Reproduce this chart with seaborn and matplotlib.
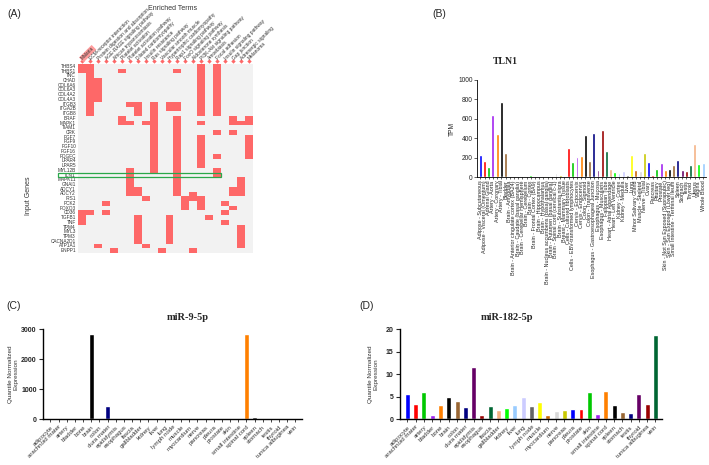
import numpy as np
import pandas as pd
import matplotlib
matplotlib.use("Agg")
import matplotlib.pyplot as plt
import seaborn as sns
from matplotlib.colors import ListedColormap
from matplotlib.patches import Rectangle

sns.set_theme(style="white")
plt.rcParams["font.family"] = ["Liberation Sans", "DejaVu Sans"]

# ---------------- data ----------------
genes = ["THBS4", "THBS1", "TNC", "CHAD", "COL6A6", "COL6A3", "COL4A2", "COL4A3",
         "ITGB3", "ITGA2B", "ITGB8", "BRAF", "MAPK1", "TIAM1", "CRK", "FGF7", "FGF9",
         "FGF10", "FGF16", "PDGFC", "LPAR4", "LPAR5", "MYL12B", "TLN1", "MAPK11",
         "GNAI1", "ADCY1", "ADCY2", "IRS1", "PCK2", "FOXO3", "CD36", "TGFB1", "TNF",
         "TPM4", "MYL3", "TPM3", "CACNA2D1", "ATP1A1", "ENPP1"]

terms = ["Malaria", "ECM-receptor interaction", "Protein digestion and absorption",
         "AGE-RAGE signaling pathway", "African trypanosomiasis", "Platelet activation",
         "Platelet activation pathway", "Dilated cardiomyopathy", "Insulin resistance",
         "Ras signaling pathway", "Vascular smooth muscle", "Hypertrophic cardiomyopathy",
         "Rap1 signaling pathway", "FoxO signaling pathway", "Aldosterone synthesis",
         "PI3K-Akt signaling pathway", "Amoebiasis", "Focal adhesion",
         "Insulin signaling pathway", "Gap junction", "Adrenergic signaling",
         "Melanoma"]

gene_hits = [
    [0, 1, 15, 17], [0, 1, 5, 12, 15, 17], [1, 15, 17], [1, 2, 15, 17],
    [1, 2, 15, 17], [1, 2, 15, 17], [1, 2, 15, 17], [1, 2, 15, 17],
    [1, 6, 7, 9, 11, 12, 15, 17], [1, 7, 9, 11, 12, 15, 17], [1, 7, 9, 15, 17],
    [5, 9, 12, 19, 21], [5, 6, 8, 9, 12, 15, 19, 20, 21], [9, 12],
    [9, 12, 17, 19], [9, 12, 15, 21], [9, 12, 15, 21], [9, 12, 15, 21],
    [9, 12, 15, 21], [9, 12, 15, 17, 21], [9, 12, 15], [9, 12, 15],
    [6, 9, 12, 17], [6, 12, 17], [6, 12, 20], [6, 12, 20], [6, 7, 12, 19, 20],
    [6, 7, 12, 14, 19, 20], [8, 13, 14, 15], [3, 13, 15, 18], [13, 15, 19],
    [0, 1, 3, 18], [0, 7, 11, 16], [0, 7, 11, 18], [7, 11, 20], [7, 11, 20],
    [7, 11, 20], [7, 11, 20], [2, 8, 20], [4, 10, 14]]

palette20 = ["#0000ff", "#ff0000", "#00c800", "#a020f0", "#ff8000", "#000000",
             "#996633", "#000080", "#660066", "#990000", "#006633", "#f4b183",
             "#00ff00", "#99ccff", "#ccccff", "#666666", "#ffff00", "#cc6600",
             "#d9d9d9", "#c8c800"]

gtex_tissues = ["Adipose - Subcutaneous", "Adipose - Visceral (Omentum)", "Adrenal Gland",
    "Artery - Aorta", "Artery - Coronary", "Artery - Tibial", "Bladder", "Brain - Amygdala",
    "Brain - Anterior cingulate cortex (BA24)", "Brain - Caudate (basal ganglia)",
    "Brain - Cerebellar Hemisphere", "Brain - Cerebellum", "Brain - Cortex",
    "Brain - Frontal Cortex (BA9)", "Brain - Hippocampus", "Brain - Hypothalamus",
    "Brain - Nucleus accumbens (basal ganglia)", "Brain - Putamen (basal ganglia)",
    "Brain - Spinal cord (cervical c-1)", "Brain - Substantia nigra",
    "Breast - Mammary Tissue", "Cells - Cultured fibroblasts",
    "Cells - EBV-transformed lymphocytes", "Cervix - Ectocervix", "Cervix - Endocervix",
    "Colon - Sigmoid", "Colon - Transverse", "Esophagus - Gastroesophageal Junction",
    "Esophagus - Mucosa", "Esophagus - Muscularis", "Fallopian Tube",
    "Heart - Atrial Appendage", "Heart - Left Ventricle", "Kidney - Cortex",
    "Kidney - Medulla", "Liver", "Lung", "Minor Salivary Gland", "Muscle - Skeletal",
    "Nerve - Tibial", "Ovary", "Pancreas", "Pituitary", "Prostate",
    "Skin - Not Sun Exposed (Suprapubic)", "Skin - Sun Exposed (Lower leg)",
    "Small Intestine - Terminal Ileum", "Spleen", "Stomach", "Testis", "Thyroid",
    "Uterus", "Vagina", "Whole Blood"]

tln1_tpm = [230, 170, 100, 640, 440, 775, 250, 12, 10, 15, 8, 10, 20, 12, 15, 15,
            12, 15, 40, 25, 5, 300, 150, 210, 220, 430, 160, 450, 70, 480, 270, 80,
            55, 40, 60, 25, 230, 70, 60, 250, 150, 25, 80, 140, 70, 85, 120, 180, 75,
            62, 128, 340, 132, 145]

mir_tissues = ["adipocyte", "arachnoid mater", "artery", "bladder", "bone", "brain",
               "colon", "dura mater", "epididymis", "esophagus", "fascia", "gallbladder",
               "kidney", "liver", "lung", "lymph node", "muscle", "myocardium", "nerve",
               "pancreas", "pleura", "prostate", "skin", "small intestine", "spinal cord",
               "spleen", "stomach", "testis", "thyroid", "tunica albuginea", "vein"]

mir9_expr = [2, 40, 1, 1, 1, 2850, 2, 450, 1, 1, 1, 1, 1, 1, 1, 1, 1, 1, 2, 1, 1, 1,
             1, 1, 2850, 60, 1, 1, 1, 1, 1]

mir182_expr = [5.6, 3.3, 6.0, 0.8, 3.2, 4.8, 4.0, 2.6, 11.5, 1.0, 2.9, 2.1, 2.4, 3.1,
               4.9, 3.0, 3.7, 0.8, 1.7, 1.9, 2.2, 2.3, 5.9, 1.2, 6.2, 3.2, 1.6, 1.3,
               5.5, 3.3, 18.6]

# ---------------- figure ----------------
W, H = 709, 465
fig = plt.figure(figsize=(W / 100, H / 100), dpi=100)


def ax_px(x0, y0, x1, y1):
    return fig.add_axes([x0 / W, 1 - y1 / H, (x1 - x0) / W, (y1 - y0) / H])


def ftxt(x, y, s, **kw):
    fig.text(x / W, 1 - y / H, s, **kw)


# ---------------- Panel A ----------------
mat = np.zeros((len(genes), len(terms)))
for i, cols in enumerate(gene_hits):
    mat[i, cols] = 1
dfA = pd.DataFrame(mat, index=genes, columns=terms)

axA = ax_px(78, 64, 253, 253)
sns.heatmap(dfA, cmap=ListedColormap(["#f2f2f2", "#fe6868"]), cbar=False,
            linewidths=0, xticklabels=False, yticklabels=True, ax=axA)
axA.set_yticks(np.arange(len(genes)) + 0.5)
axA.set_yticklabels(genes, fontsize=3.4, color="#333333")
axA.tick_params(axis="y", length=0, pad=1.5)
axA.set_ylabel("")
axA.set_xlabel("")
for j, t in enumerate(terms):
    axA.scatter(j + 0.5, -0.6, marker="D", s=5, color="#fe6868", clip_on=False,
                linewidths=0)
    kw = {}
    if j == 0:
        kw["bbox"] = dict(facecolor="#ff9c9c", edgecolor="none", pad=0.6)
    axA.text(j + 0.5, -1.0, t, rotation=45, rotation_mode="anchor", ha="left",
             va="center", fontsize=3.5, color="#333333", **kw)
# highlight box around TLN1
r = genes.index("TLN1")
axA.add_patch(Rectangle((-2.5, r), 18.0 + 2.5, 1, fill=False, edgecolor="#2aa84a",
                        linewidth=0.9, clip_on=False))

ftxt(173, 8, "Enriched Terms", fontsize=5, ha="center", va="center", color="#333333")
ftxt(28, 196, "Input Genes", fontsize=5, ha="center", va="center", rotation=90,
     color="#333333")
ftxt(14, 14, "(A)", fontsize=7.5, ha="center", va="center")

# ---------------- Panel B ----------------
axB = ax_px(477, 80, 706, 177)
sns.barplot(x=gtex_tissues, y=tln1_tpm, hue=gtex_tissues, order=gtex_tissues,
            hue_order=gtex_tissues,
            palette=[palette20[i % 20] for i in range(len(gtex_tissues))],
            legend=False, saturation=1, width=0.7, ax=axB)
axB.set_ylim(0, 1000)
axB.set_yticks([0, 200, 400, 600, 800, 1000])
axB.set_xlim(-0.8, len(gtex_tissues) - 0.3)
axB.set_xticks(range(len(gtex_tissues)))
axB.set_xticklabels(gtex_tissues, rotation=90, fontsize=3.9, ha="center", va="top")
axB.tick_params(axis="y", labelsize=4.8, length=2, width=0.5, pad=1, left=True)
axB.tick_params(axis="x", length=1.5, width=0.5, pad=1, bottom=True)
axB.set_ylabel("TPM", fontsize=4.8, labelpad=2)
sns.despine(ax=axB)
for s in ["left", "bottom"]:
    axB.spines[s].set_linewidth(0.6)
    axB.spines[s].set_color("black")
ftxt(505, 61, "TLN1", fontsize=7, fontweight="bold", ha="center", va="center",
     family=["Liberation Serif", "DejaVu Serif"])
ftxt(439, 14, "(B)", fontsize=7.5, ha="center", va="center")


# ---------------- Panels C & D ----------------
def mir_panel(x0, x1, values, ymax, yticks, title, title_x, label, label_x, ylab_x):
    ax = ax_px(x0, 329, x1, 419)
    sns.barplot(x=mir_tissues, y=values, hue=mir_tissues, order=mir_tissues,
                hue_order=mir_tissues,
                palette=[palette20[i % 20] for i in range(len(mir_tissues))],
                legend=False, saturation=1, width=0.6, ax=ax)
    ax.set_ylim(0, ymax)
    ax.set_yticks(yticks)
    ax.set_yticklabels([str(v) for v in yticks], fontsize=5, fontweight="bold")
    ax.set_xlim(-0.9, len(mir_tissues) - 0.2)
    ax.set_xticks(range(len(mir_tissues)))
    ax.set_xticklabels(mir_tissues, rotation=45, ha="right", rotation_mode="anchor",
                       fontsize=4.4, color="#333333")
    ax.tick_params(axis="y", length=3, width=0.8, pad=1.5, left=True)
    ax.tick_params(axis="x", length=2.5, width=0.6, pad=1.5, bottom=True)
    ax.set_ylabel("")
    sns.despine(ax=ax)
    for s in ["left", "bottom"]:
        ax.spines[s].set_linewidth(1.0)
        ax.spines[s].set_color("black")
    ftxt(title_x, 317, title, fontsize=7.5, fontweight="bold", ha="center",
         va="center", family=["Liberation Serif", "DejaVu Serif"])
    ftxt(label_x, 306, label, fontsize=7.5, ha="center", va="center")
    ftxt(ylab_x, 374, "Quantile Normalized\nExpression", fontsize=4.6,
         ha="center", va="center", rotation=90, color="#333333", linespacing=1.1)
    return ax


mir_panel(43, 302, mir9_expr, 3000, [0, 1000, 2000, 3000], "miR-9-5p", 188, "(C)",
          14, 13)
mir_panel(400, 662, mir182_expr, 20, [0, 5, 10, 15, 20], "miR-182-5p", 507, "(D)",
          367, 373)

fig.savefig("out.png", dpi=100)
